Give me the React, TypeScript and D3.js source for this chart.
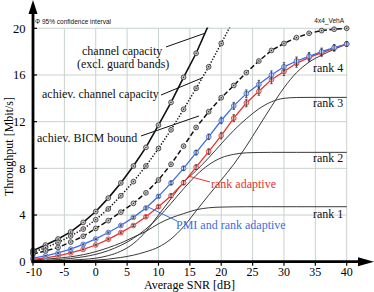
import React from "react";
import * as d3 from "d3";

// SNR grid of the simulated points [dB]
const snrDb = [-10, -8, -6, -4, -2, 0, 2, 4, 6, 8, 10, 12, 14, 16, 18, 20, 22, 24, 26, 28, 30, 32, 34, 36, 38, 40];

// throughput [Mbit/s]
const capacity = [0.95, 1.43, 1.95, 2.55, 3.37, 4.3, 5.45, 6.75, 8.2, 9.8, 11.7, 13.65, 15.8, 17.86, 20.3];
const achievCapacity = [0.8, 1.2, 1.65, 2.2, 2.8, 3.6, 4.52, 5.65, 6.86, 8.2, 9.7, 11.3, 13.06, 14.86, 16.7, 18.7, 20.75];
const bicmBound = [0.66, 0.92, 1.22, 1.68, 2.18, 2.85, 3.52, 4.25, 5.0, 5.9, 7.0, 8.35, 9.9, 11.5, 12.85, 14.05, 15.1, 16.2, 17.2, 18.1, 18.7, 19.2, 19.57, 19.8, 19.92, 20.0];
const pmiRankAdaptive = [0.3, 0.5, 0.75, 1.08, 1.48, 1.95, 2.5, 3.1, 3.8, 4.6, 5.6, 6.75, 8.0, 9.35, 10.7, 12.1, 13.35, 14.4, 15.2, 16.0, 16.7, 17.2, 17.6, 18.0, 18.35, 18.65];
const rankAdaptive = [0.2, 0.33, 0.5, 0.75, 1.06, 1.43, 1.92, 2.49, 3.1, 3.85, 4.71, 5.65, 6.77, 8.1, 9.43, 10.8, 12.3, 13.6, 14.6, 15.6, 16.3, 17.0, 17.5, 17.9, 18.3, 18.65];
// 95% confidence half widths
const ciPmi = [0.03, 0.03, 0.03, 0.04, 0.04, 0.05, 0.05, 0.06, 0.08, 0.1, 0.12, 0.15, 0.18, 0.2, 0.24, 0.28, 0.3, 0.32, 0.34, 0.35, 0.35, 0.34, 0.32, 0.3, 0.26, 0.2];
const ciRank = [0.03, 0.03, 0.03, 0.04, 0.04, 0.05, 0.05, 0.06, 0.08, 0.1, 0.12, 0.15, 0.18, 0.2, 0.24, 0.28, 0.3, 0.32, 0.34, 0.35, 0.35, 0.34, 0.32, 0.3, 0.26, 0.2];

const rank1 = [0.15, 0.22, 0.3, 0.42, 0.6, 0.86, 1.2, 1.6, 2.1, 2.6, 3.25, 3.75, 4.12, 4.45, 4.62, 4.68, 4.7, 4.71, 4.71, 4.71, 4.71, 4.71, 4.71, 4.71, 4.71, 4.71];
const rank2 = [0.08, 0.12, 0.18, 0.27, 0.42, 0.63, 0.95, 1.4, 2.0, 2.8, 3.8, 5.0, 6.25, 7.4, 8.3, 8.9, 9.2, 9.33, 9.36, 9.37, 9.37, 9.37, 9.37, 9.37, 9.37, 9.37];
const rank3 = [0.03, 0.05, 0.08, 0.13, 0.2, 0.3, 0.52, 0.9, 1.55, 2.6, 4.0, 5.4, 6.8, 7.8, 8.9, 10.1, 11.25, 12.25, 13.1, 13.7, 14.0, 14.07, 14.08, 14.08, 14.08, 14.08];
const rank4 = [0.01, 0.02, 0.03, 0.05, 0.08, 0.13, 0.22, 0.36, 0.56, 0.85, 1.25, 1.95, 3.0, 4.35, 5.7, 7.0, 8.35, 9.9, 11.6, 13.3, 14.9, 16.2, 17.1, 17.7, 18.2, 18.65];

const xTicks = [-10, -5, 0, 5, 10, 15, 20, 25, 30, 35, 40];
const yTicks = [0, 4, 8, 12, 16, 20];

const W = 374, H = 292;
const x = d3.scaleLinear().domain([-10, 40]).range([33, 346.7]);
const y = d3.scaleLinear().domain([0, 20]).range([261.7, 28.3]);

const serif = "'Liberation Serif', 'Times New Roman', serif";
const sans = "'Liberation Sans', Arial, sans-serif";
const BLUE = "#3b6de6";
const RED = "#e8332d";
const GRID = "#c9d2cc";

type Pt = { s: number; v: number; ci: number };
const toPts = (vals: number[], ci?: number[]): Pt[] =>
  vals.map((v, i) => ({ s: snrDb[i], v, ci: ci ? ci[i] : 0 }));

const line = d3.line<Pt>().x((d) => x(d.s)).y((d) => y(d.v));
const smooth = d3.line<Pt>().x((d) => x(d.s)).y((d) => y(d.v)).curve(d3.curveMonotoneX);

const series = [
  { key: "cap", pts: toPts(capacity), stroke: "#111", width: 1.6, dash: undefined, marker: "black" },
  { key: "acap", pts: toPts(achievCapacity), stroke: "#111", width: 1.5, dash: "1.3 1.7", marker: "black" },
  { key: "bicm", pts: toPts(bicmBound), stroke: "#111", width: 1.5, dash: "5 2.5", marker: "black" },
  { key: "red", pts: toPts(rankAdaptive, ciRank), stroke: RED, width: 1.3, dash: undefined, marker: "red" },
  { key: "blue", pts: toPts(pmiRankAdaptive, ciPmi), stroke: BLUE, width: 1.3, dash: undefined, marker: "blue" },
];

const ranks = [rank1, rank2, rank3, rank4];

// annotation connectors in data coordinates [snr, value]
const connectors = [
  { from: [11.2, 18.4], to: [17.26, 19.55], color: "#111" },
  { from: [10.4, 14.28], to: [16.94, 15.74], color: "#111" },
  { from: [7.21, 10.77], to: [16.46, 12.49], color: "#111" },
  { from: [18.21, 6.83], to: [15.02, 7.3], color: RED },
  { from: [8.33, 4.69], to: [12.95, 3.49], color: BLUE },
];

const labels = [
  { text: "channel capacity", px: 82, py: 55, color: "#111" },
  { text: "(excl. guard bands)", px: 77, py: 68, color: "#111" },
  { text: "achiev. channel capacity", px: 42, py: 98, color: "#111" },
  { text: "achiev. BICM bound", px: 37, py: 142, color: "#111" },
  { text: "rank adaptive", px: 211, py: 188, color: RED },
  { text: "PMI and rank adaptive", px: 176, py: 229, color: BLUE },
  { text: "rank 4", px: 313, py: 72, color: "#111" },
  { text: "rank 3", px: 313, py: 107, color: "#111" },
  { text: "rank 2", px: 313, py: 162, color: "#111" },
  { text: "rank 1", px: 313, py: 218, color: "#111" },
];

const markerStyle: Record<string, { fill: string; stroke: string }> = {
  black: { fill: "#c4c4c4", stroke: "#333" },
  red: { fill: "#f5b9b5", stroke: RED },
  blue: { fill: "#bccbf4", stroke: BLUE },
};

export default function App() {
  const x0 = x(-10), x1 = x(40), y0 = y(0), y1 = y(20);
  return (
    <svg width={W} height={H} style={{ position: "absolute", left: 0, top: 0, background: "#fff" }}>
      <defs>
        <clipPath id="plotClip">
          <rect x={x0} y={y1 - 0.8} width={x1 - x0 + 4} height={y0 - y1 + 2} />
        </clipPath>
      </defs>

      {/* grid */}
      <g stroke={GRID} strokeWidth={1}>
        {xTicks.filter((t) => t > -10).map((t) => (
          <line key={"gx" + t} x1={x(t)} x2={x(t)} y1={y0} y2={y1} />
        ))}
        {yTicks.filter((t) => t > 0).map((t) => (
          <line key={"gy" + t} x1={x0} x2={x1} y1={y(t)} y2={y(t)} />
        ))}
      </g>

      {/* rank curves */}
      <g fill="none" stroke="#222" strokeWidth={0.9}>
        {ranks.map((r, i) => (
          <path key={"r" + i} d={smooth(toPts(r)) || ""} />
        ))}
      </g>

      {/* simulated curves */}
      <g clipPath="url(#plotClip)" fill="none">
        {series.map((s) => (
          <path key={s.key} d={line(s.pts) || ""} stroke={s.stroke} strokeWidth={s.width} strokeDasharray={s.dash} />
        ))}
      </g>

      {/* markers */}
      {series.map((s) => {
        const st = markerStyle[s.marker];
        return (
          <g key={"m" + s.key}>
            {s.pts.filter((p) => p.v <= 20.05).map((p) => {
              const cx = x(p.s), cy = y(p.v);
              const hi = y(p.v + p.ci), lo = y(p.v - p.ci);
              return (
                <g key={p.s}>
                  <circle cx={cx} cy={cy} r={2.4} fill={st.fill} stroke={st.stroke} strokeWidth={0.8} />
                  {s.marker === "black" ? (
                    <circle cx={cx} cy={cy} r={0.7} fill="#222" />
                  ) : (
                    <g stroke="#333" strokeWidth={0.8}>
                      <line x1={cx} x2={cx} y1={hi} y2={lo} />
                      <line x1={cx - 1.2} x2={cx + 1.2} y1={hi} y2={hi} />
                      <line x1={cx - 1.2} x2={cx + 1.2} y1={lo} y2={lo} />
                    </g>
                  )}
                </g>
              );
            })}
          </g>
        );
      })}

      {/* connectors */}
      {connectors.map((c, i) => (
        <line key={"c" + i} x1={x(c.from[0])} y1={y(c.from[1])} x2={x(c.to[0])} y2={y(c.to[1])} stroke={c.color} strokeWidth={1} />
      ))}

      {/* labels */}
      {labels.map((l) => (
        <text key={l.text} x={l.px} y={l.py} fill={l.color} fontFamily={serif} fontSize={12}>
          {l.text}
        </text>
      ))}

      <text x={35} y={23.5} fontFamily={sans} fontSize={6.5} fill="#111">Φ 95% confidence interval</text>
      <text x={344} y={23} fontFamily={sans} fontSize={6.5} fill="#111" textAnchor="end">4x4_VehA</text>

      {/* axes */}
      <g stroke="#000">
        <line x1={x0} x2={x0} y1={y0 + 1.5} y2={12} strokeWidth={2.8} />
        <line x1={x0 - 1.4} x2={360} y1={y0} y2={y0} strokeWidth={2.8} />
        {yTicks.map((t) => (
          <line key={"ty" + t} x1={x0} x2={x0 + 4} y1={y(t)} y2={y(t)} strokeWidth={1.2} />
        ))}
        {xTicks.map((t) => (
          <line key={"tx" + t} x1={x(t)} x2={x(t)} y1={y0} y2={y0 + 4} strokeWidth={1.2} />
        ))}
      </g>
      <path d={`M${x0},0 L${x0 - 4.5},14 L${x0 + 4.5},14 Z`} fill="#000" />
      <path d={`M374,${y0} L358,${y0 - 4.5} L358,${y0 + 4.5} Z`} fill="#000" />

      {/* tick labels */}
      {yTicks.map((t) => (
        <text key={"ly" + t} x={25.5} y={y(t) + 4.2} textAnchor="end" fontFamily={serif} fontSize={12.5} fill="#000">
          {t}
        </text>
      ))}
      {xTicks.map((t) => (
        <text key={"lx" + t} x={x(t) + (t === -10 ? 1 : 0)} y={275.5} textAnchor="middle" fontFamily={serif} fontSize={12} fill="#000">
          {t}
        </text>
      ))}
      <text x={189.5} y={289} textAnchor="middle" fontFamily={serif} fontSize={12} fill="#000">Average SNR [dB]</text>
      <text transform="translate(13,146.5) rotate(-90)" textAnchor="middle" fontFamily={serif} fontSize={12} fill="#000">
        Throughput [Mbit/s]
      </text>
    </svg>
  );
}
